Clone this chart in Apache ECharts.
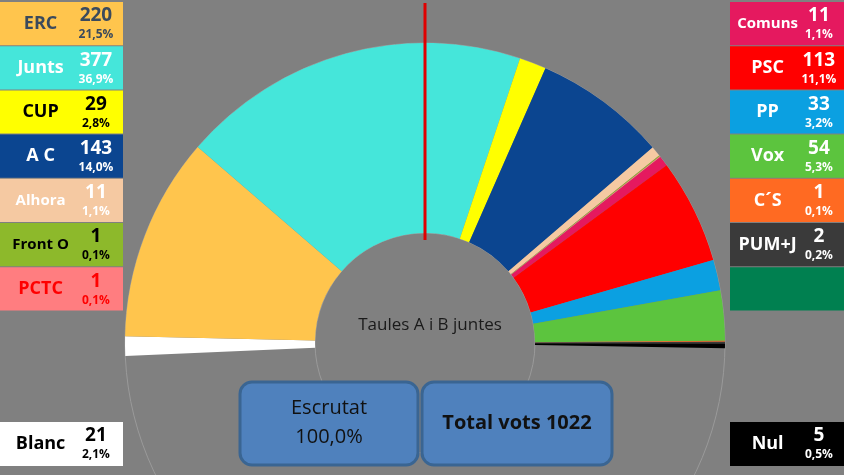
<!DOCTYPE html>
<html><head><meta charset="utf-8">
<script src="https://cdn.jsdelivr.net/npm/echarts@6/dist/echarts.min.js"></script>
<style>html,body{margin:0;padding:0;background:#808080}#c{width:844px;height:475px}</style>
</head><body><div id="c"></div>
<script>
const parties = ['Blanc','ERC','Junts','CUP','A C','Alhora','Front O','PCTC','Comuns','PSC','PP','Vox','C´S','PUM+J','Nul'];
const votes   = [21,220,377,29,143,11,1,1,11,113,33,54,1,2,5];
const colors  = ['#FFFFFF','#FFC54D','#45E6DA','#FFFF00','#0B4590','#F5C9A2','#8DB92B','#FF7D80','#E5195F','#FF0000','#0BA0E1','#5CC43E','#FF6A22','#3A3A3A','#000000'];
const nameColors = ['#000','#3B4A5C','#fff','#000','#fff','#fff','#000','#FF0000','#fff','#fff','#fff','#fff','#fff','#fff','#fff'];
const leftParties = ['ERC','Junts','CUP','A C','Alhora','Front O','PCTC'];
const rightParties = ['Comuns','PSC','PP','Vox','C´S','PUM+J'];
const total = votes.reduce((a,b)=>a+b,0);

const chart = echarts.init(document.getElementById('c'));
const pct = v => (v/total*100).toFixed(1).replace('.',',')+'%';
const g = [];
function box(x,y,w,h,i){
  g.push({type:'rect',shape:{x,y,width:w,height:h},style:{fill:colors[i]},z:1});
  const name=parties[i];
  const fs = name.length>5?15:18;
  g.push({type:'text',x:x+w*0.33,y:y+h/2,style:{text:name,fill:nameColors[i],font:'bold '+fs+'px "Open Sans", sans-serif',align:'center',verticalAlign:'middle'},z:2});
  g.push({type:'text',x:x+w*0.78,y:y+14,style:{text:String(votes[i]),fill:nameColors[i],font:'bold 19px "Open Sans", sans-serif',align:'center',verticalAlign:'middle'},z:2});
  g.push({type:'text',x:x+w*0.78,y:y+33,style:{text:pct(votes[i]),fill:nameColors[i],font:'bold 12px "Open Sans", sans-serif',align:'center',verticalAlign:'middle'},z:2});
}
leftParties.forEach((p,k)=>box(0,2+k*44.2,123,43.2,parties.indexOf(p)));
rightParties.forEach((p,k)=>box(730,2+k*44.2,114,43.2,parties.indexOf(p)));
g.push({type:'rect',shape:{x:730,y:2+6*44.2,width:114,height:43.2},style:{fill:'#008050'},z:1});
box(0,422,123,44,0);
box(730,422,114,44,14);
g.push({type:'line',shape:{x1:425,y1:3,x2:425,y2:240},style:{stroke:'#E00000',lineWidth:3},z:5});
g.push({type:'text',x:430,y:325,style:{text:'Taules A i B juntes',fill:'#1a1a1a',font:'17px "Open Sans", sans-serif',align:'center',verticalAlign:'middle'},z:5});
g.push({type:'rect',shape:{x:240,y:382,width:178,height:83,r:12},style:{fill:'#4F81BD',stroke:'#3A6592',lineWidth:3},z:5});
g.push({type:'text',x:329,y:423,style:{text:'Escrutat\n100,0%',fill:'#111',font:'20px "Open Sans", sans-serif',align:'center',verticalAlign:'middle',lineHeight:29},z:6});
g.push({type:'rect',shape:{x:422,y:382,width:190,height:83,r:12},style:{fill:'#4F81BD',stroke:'#3A6592',lineWidth:3},z:5});
g.push({type:'text',x:517,y:423,style:{text:'Total vots '+total,fill:'#111',font:'bold 20px "Open Sans", sans-serif',align:'center',verticalAlign:'middle'},z:6});

const span = 183.5;
const data = parties.map((p,i)=>({name:p,value:votes[i],itemStyle:{color:colors[i]}}));
data.push({name:'_',value:total*(360-span)/span,itemStyle:{color:'transparent'}});
chart.setOption({
  backgroundColor:'#808080',
  animation:false,
  series:[
    {type:'pie',center:[425,343],radius:[110,300],silent:true,label:{show:false},z:1,
     data:[{value:1,itemStyle:{color:'transparent',borderColor:'#9a9a9a',borderWidth:1}}]},
    {type:'pie',center:[425,343],radius:[110,300],startAngle:182.5,clockwise:true,label:{show:false},
     itemStyle:{borderWidth:0},data:data,z:2}
  ],
  graphic:g
});
</script></body></html>
